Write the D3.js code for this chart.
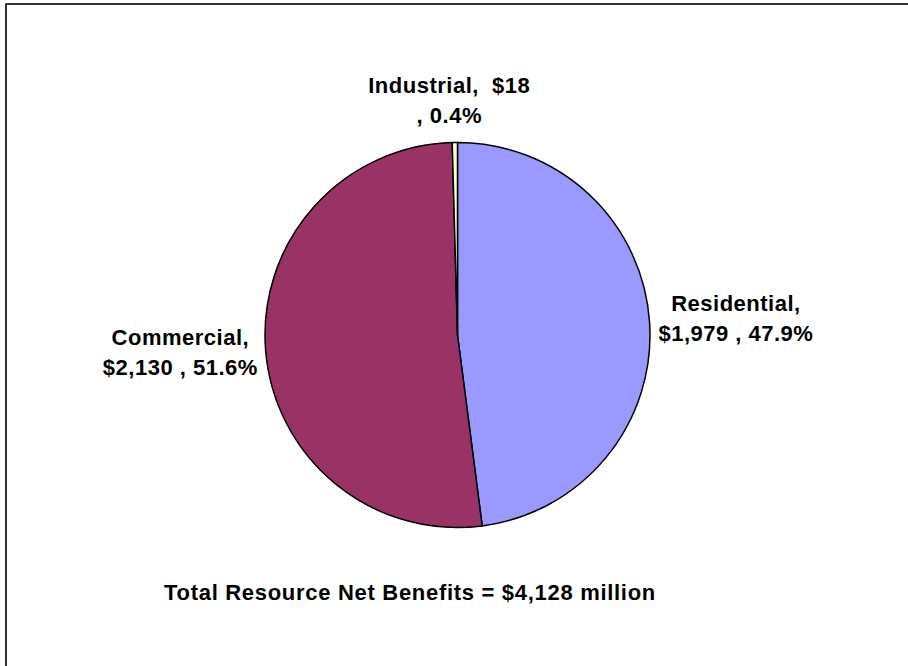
<!DOCTYPE html>
<html>
<head>
<meta charset="utf-8">
<script src="https://cdn.jsdelivr.net/npm/d3@7"></script>
<style>
  html, body { margin: 0; padding: 0; background: #fff; }
  svg { display: block; }
  text { font-family: "Liberation Sans", Arial, sans-serif; font-weight: bold; fill: #000; white-space: pre; }
</style>
</head>
<body>
<svg id="chart" width="908" height="666"></svg>
<script>
// Resource net benefits by customer sector ($ million)
const categories = ["Residential", "Commercial", "Industrial"];
const values = [1979, 2130, 18];
const valueLabels = ["$1,979", "$2,130", "$18"];
const percentLabels = ["47.9%", "51.6%", "0.4%"];
const colors = ["#9999FF", "#993366", "#FFFFCC"];
const totalLabel = "Total Resource Net Benefits = $4,128 million";

// label line layouts per sector
const labelLines = [
  [categories[0] + ",", valueLabels[0] + " , " + percentLabels[0]],
  [categories[1] + ",", valueLabels[1] + " , " + percentLabels[1]],
  [categories[2] + ",  " + valueLabels[2], ", " + percentLabels[2]]
];

const svg = d3.select("#chart");
const cx = 457.5, cy = 335, radius = 192.5;
const fontSize = 22, lineGap = 30;

// outer frame (top and left edges inside the view)
svg.append("rect")
  .attr("x", 6).attr("y", 4)
  .attr("width", 1000).attr("height", 1000)
  .attr("fill", "none").attr("stroke", "#000").attr("stroke-width", 1.6);

const pie = d3.pie().sort(null).value(d => d)(values);
const arc = d3.arc().innerRadius(0).outerRadius(radius);

const g = svg.append("g").attr("transform", `translate(${cx},${cy})`);
g.selectAll("path.slice")
  .data(pie)
  .join("path")
  .attr("class", "slice")
  .attr("d", arc)
  .attr("fill", (d, i) => colors[i])
  .attr("stroke", "#000")
  .attr("stroke-width", 1.5)
  .attr("stroke-linejoin", "round");

// label placement: distance from centre along the slice mid-angle, plus a nudge
const labelPlace = [
  { r: 279, dx: 0, dy: 1.5 },
  { r: 279, dx: 1, dy: -5 },
  { r: 236, dx: -5, dy: 1 }
];

pie.forEach((d, i) => {
  const mid = (d.startAngle + d.endAngle) / 2;
  const p = labelPlace[i];
  const x = cx + p.r * Math.sin(mid) + p.dx;
  const y = cy - p.r * Math.cos(mid) + p.dy;
  const lines = labelLines[i];
  const t = svg.append("text")
    .attr("text-anchor", "middle")
    .attr("font-size", fontSize)
    .attr("letter-spacing", 0.5);
  lines.forEach((ln, k) => {
    t.append("tspan")
      .attr("x", x)
      .attr("y", y + (k - (lines.length - 1) / 2) * lineGap + fontSize * 0.36)
      .text(ln);
  });
});

svg.append("text")
  .attr("x", 410).attr("y", 600)
  .attr("text-anchor", "middle")
  .attr("font-size", fontSize)
  .attr("letter-spacing", 0.7)
  .text(totalLabel);
</script>
</body>
</html>
